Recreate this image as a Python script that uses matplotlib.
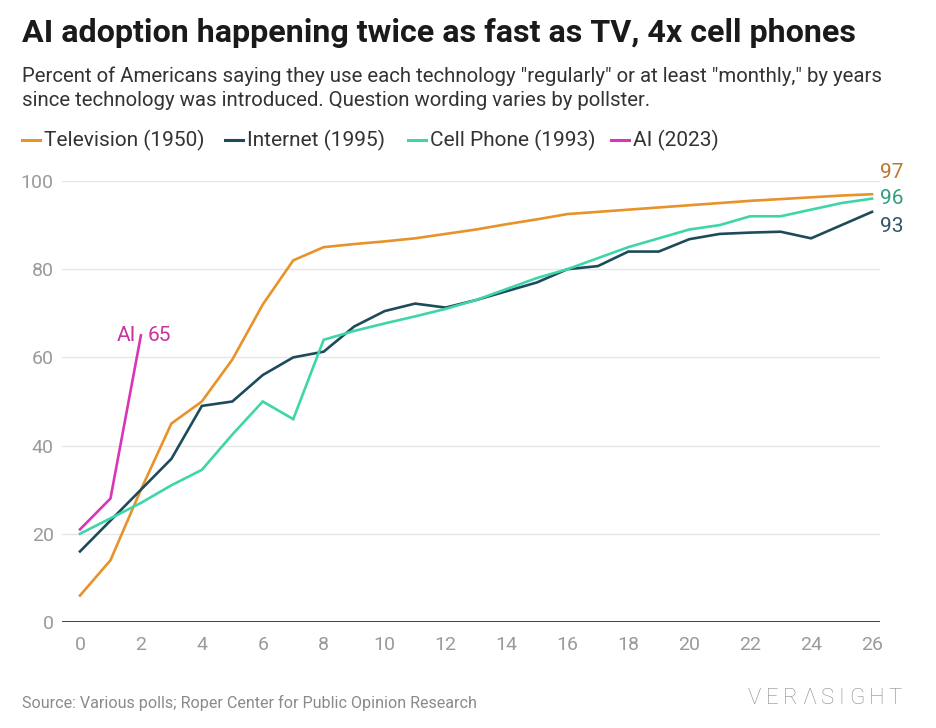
import matplotlib
matplotlib.use("Agg")
import matplotlib.pyplot as plt
from matplotlib.lines import Line2D

plt.rcParams['font.family'] = ['Roboto', 'DejaVu Sans']

years_tv = list(range(0, 27))
television = [6, 14, 30, 45, 50, 59.5, 72, 82, 85, 85.7, 86.3, 87, 88, 89, 90.2,
              91.3, 92.5, 93, 93.5, 94, 94.5, 95, 95.5, 95.9, 96.3, 96.7, 97]
years_net = list(range(0, 27))
internet = [16, 23, 30, 37, 49, 50, 56, 60, 61.3, 67, 70.5, 72.2, 71.3, 73, 75,
            77, 80, 80.7, 84, 84, 86.8, 88, 88.3, 88.5, 87, 90, 93]
years_cell = list(range(0, 27))
cell_phone = [20, 23.5, 27, 31, 34.5, 42.5, 50, 46, 64, 66, 67.7, 69.3, 71, 73,
              75.5, 78, 80, 82.5, 85, 87, 89, 90, 92, 92, 93.5, 95, 96]
years_ai = [0, 1, 2]
ai = [21, 28, 65]

series_names = ["Television (1950)", "Internet (1995)", "Cell Phone (1993)", "AI (2023)"]
line_colors = ["#E8922A", "#1E4B5C", "#3ED6A8", "#D935B8"]
label_colors = ["#B9772F", "#2F5566", "#2E9E7E", "#C7339F"]
x_ticks = list(range(0, 27, 2))
y_ticks = [0, 20, 40, 60, 80, 100]

title = "AI adoption happening twice as fast as TV, 4x cell phones"
subtitle = ('Percent of Americans saying they use each technology "regularly" or at least "monthly," by years\n'
            'since technology was introduced. Question wording varies by pollster.')
source = "Source: Various polls; Roper Center for Public Opinion Research"
brand = "VERΛSIGHT"

W, H = 936, 728
fig = plt.figure(figsize=(W / 100, H / 100), dpi=100)
fig.patch.set_facecolor("white")

def fx(px):
    return px / W

def fy(py):
    return 1 - py / H

ax = fig.add_axes([fx(62), fy(622), fx(880) - fx(62), fy(181) - fy(622)])
ax.set_xlim(-18 / 30.46, 26 + 8 / 30.46)
ax.set_ylim(0, 100)

data = [(years_tv, television), (years_net, internet), (years_cell, cell_phone), (years_ai, ai)]
order = [2, 1, 0, 3]
for i in order:
    xs, ys = data[i]
    ax.plot(xs, ys, color=line_colors[i], lw=1.9, solid_joinstyle='miter', clip_on=False, zorder=3 + i)

for s in ax.spines.values():
    s.set_visible(False)
ax.set_yticks(y_ticks)
ax.set_xticks(x_ticks)
ax.grid(axis='y', color="#E6E6E6", lw=1.0)
ax.set_axisbelow(True)
ax.axhline(0, color="#333333", lw=1.3, zorder=2)
ax.tick_params(axis='both', length=0, labelsize=14, labelcolor="#9A9A9A")
ax.tick_params(axis='x', pad=10)
ax.tick_params(axis='y', pad=6)

P = 0.72  # px -> points
lab_fs = 15
ax.annotate(f"{television[-1]:.0f}", (years_tv[-1], television[-1]), xytext=(8 * P, 22 * P), textcoords='offset points',
            color=label_colors[0], fontsize=lab_fs, ha='left', va='center')
ax.annotate(f"{cell_phone[-1]:.0f}", (years_cell[-1], cell_phone[-1]), xytext=(8 * P, 0), textcoords='offset points',
            color=label_colors[2], fontsize=lab_fs, ha='left', va='center')
ax.annotate(f"{internet[-1]:.0f}", (years_net[-1], internet[-1]), xytext=(8 * P, -15 * P), textcoords='offset points',
            color=label_colors[1], fontsize=lab_fs, ha='left', va='center')
ax.annotate("AI", (years_ai[-1], ai[-1]), xytext=(-5 * P, 0), textcoords='offset points',
            color=label_colors[3], fontsize=lab_fs, ha='right', va='center')
ax.annotate(f"{ai[-1]:.0f}", (years_ai[-1], ai[-1]), xytext=(7 * P, 0), textcoords='offset points',
            color=label_colors[3], fontsize=lab_fs, ha='left', va='center')

# title / subtitle
fig.text(fx(22), fy(33), title, fontsize=23.2, fontweight='bold', color="#1A1A1A", va='center', ha='left')
fig.text(fx(22), fy(88), subtitle, fontsize=14.7, color="#333333", va='center', ha='left', linespacing=1.32)

# legend
leg_x = [22, 225, 408, 611]
for i, name in enumerate(series_names):
    x0 = leg_x[i]
    fig.add_artist(Line2D([fx(x0), fx(x0 + 18)], [fy(140), fy(140)], color=line_colors[i], lw=2.2,
                          transform=fig.transFigure))
    fig.text(fx(x0 + 22), fy(140), name, fontsize=15, color="#333333", va='center', ha='left')

# footer
fig.text(fx(22), fy(703), source, fontsize=11.6, color="#8A8A8A", va='center', ha='left')
renderer = fig.canvas.get_renderer()
bx = 748
for ch in brand:
    t = fig.text(fx(bx), fy(699), ch, fontsize=16, color="#8C8C8C", va='center', ha='left', fontweight='light')
    w = t.get_window_extent(renderer).width
    bx += w + 4.5

fig.savefig("out.png", dpi=100, facecolor="white")
